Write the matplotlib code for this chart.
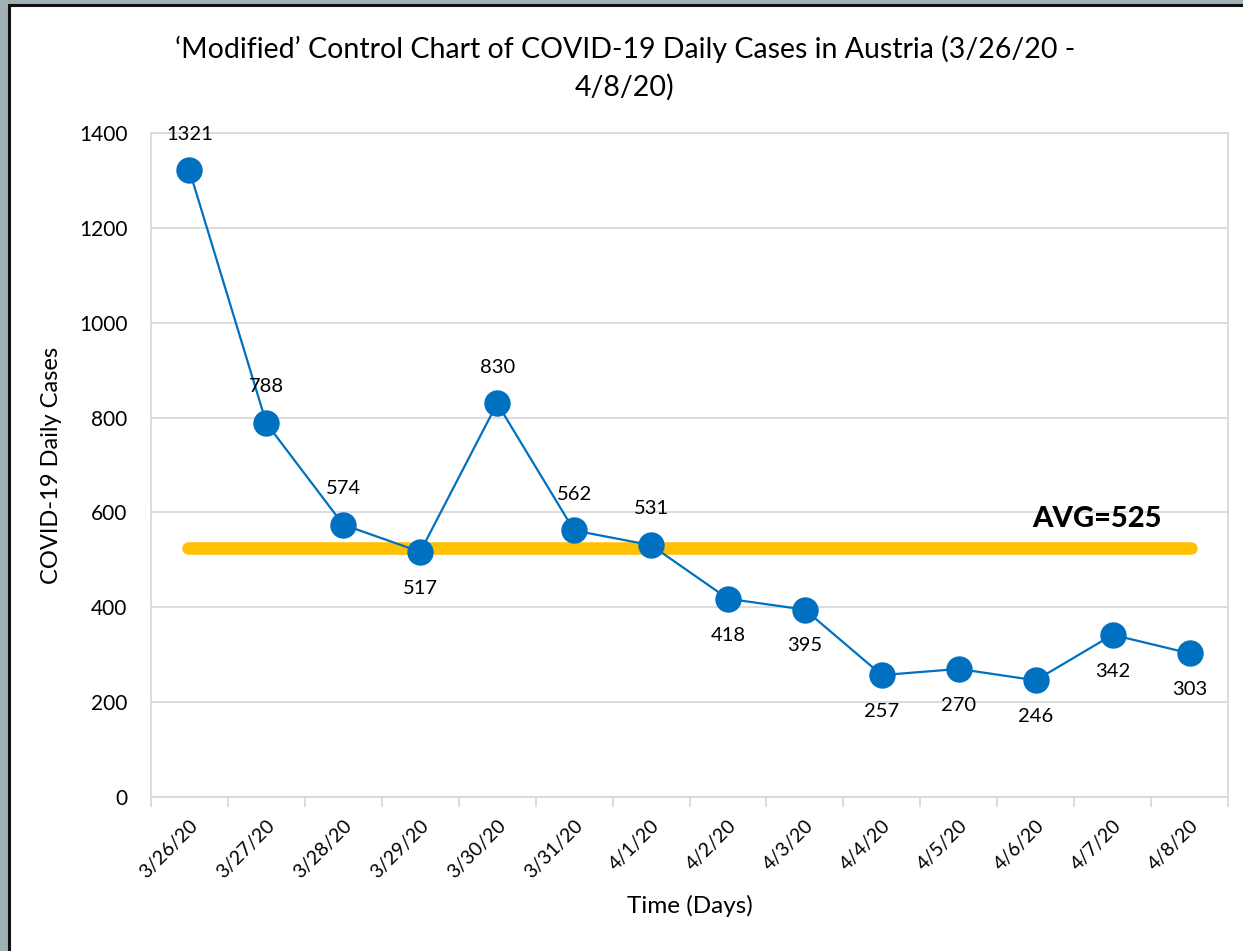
import matplotlib
matplotlib.use("Agg")
import matplotlib.pyplot as plt
from matplotlib.patches import Rectangle

dates = ["3/26/20", "3/27/20", "3/28/20", "3/29/20", "3/30/20", "3/31/20", "4/1/20",
         "4/2/20", "4/3/20", "4/4/20", "4/5/20", "4/6/20", "4/7/20", "4/8/20"]
cases = [1321, 788, 574, 517, 830, 562, 531, 418, 395, 257, 270, 246, 342, 303]
label_above = [True, True, True, False, True, True, True,
               False, False, False, False, False, False, False]
average = 525
y_ticks = [0, 200, 400, 600, 800, 1000, 1200, 1400]

plt.rcParams['font.family'] = ['Lato', 'DejaVu Sans']

W, H = 1243, 951
fig = plt.figure(figsize=(W / 100, H / 100), dpi=100)
fig.patch.set_facecolor('#a0b0b5')

# white chart panel with dark frame, kept behind the axes
panel = Rectangle((9 / W, -0.1), 1.2, 1.1 - 5 / H, transform=fig.transFigure,
                  facecolor='white', edgecolor='#111111', linewidth=2.2, zorder=-10)
fig.add_artist(panel)

ax = fig.add_axes([151 / W, 1 - 797 / H, (1228 - 151) / W, (797 - 133) / H])
ax.set_zorder(1)
ax.set_facecolor('white')

x = list(range(len(dates)))
grid_c = '#d9d9d9'

ax.set_xlim(-0.5, len(dates) - 0.5)
ax.set_ylim(0, 1400)
ax.set_yticks(y_ticks)
ax.set_yticklabels([str(v) for v in y_ticks], fontsize=15)
ax.yaxis.grid(True, color=grid_c, linewidth=1.3)
ax.set_axisbelow(True)
ax.tick_params(axis='y', length=0, pad=17)

ax.set_xticks(x)
ax.set_xticklabels(dates, rotation=45, ha='right', rotation_mode='anchor', fontsize=14)
ax.tick_params(axis='x', length=0, pad=14)
ax.set_xticks([i - 0.5 for i in range(len(dates) + 1)], minor=True)
ax.tick_params(axis='x', which='minor', length=7, width=1.3, color=grid_c)

for s in ax.spines.values():
    s.set_color(grid_c)
    s.set_linewidth(1.3)

# average line
ax.plot([x[0] - 0.02, x[-1] + 0.02], [average, average], color='#FFC000',
        linewidth=9, solid_capstyle='round', zorder=2)
ax.text(x[-1] - 1.2, average + 33, f"AVG={average}", fontsize=21, fontweight='black',
        ha='center', va='bottom', color='black', zorder=4)

# daily cases
ax.plot(x, cases, color='#0070C0', linewidth=1.6, marker='o', markersize=18,
        markerfacecolor='#0070C0', markeredgecolor='#0070C0', zorder=3)

for xi, v, up in zip(x, cases, label_above):
    off = 20 if up else -20
    ax.annotate(str(v), (xi, v), xytext=(0, off), textcoords='offset points',
                ha='center', va='bottom' if up else 'top', fontsize=14.5, zorder=5)

ax.set_ylabel("COVID-19 Daily Cases", fontsize=17, labelpad=12)
ax.set_xlabel("Time (Days)", fontsize=17.5, labelpad=10)

fig.text(625 / W, 1 - 68 / H,
         "‘Modified’ Control Chart of COVID-19 Daily Cases in Austria (3/26/20 -\n4/8/20)",
         ha='center', va='center', fontsize=20.5, linespacing=1.5)

fig.savefig("out.png", dpi=100, facecolor=fig.get_facecolor())
